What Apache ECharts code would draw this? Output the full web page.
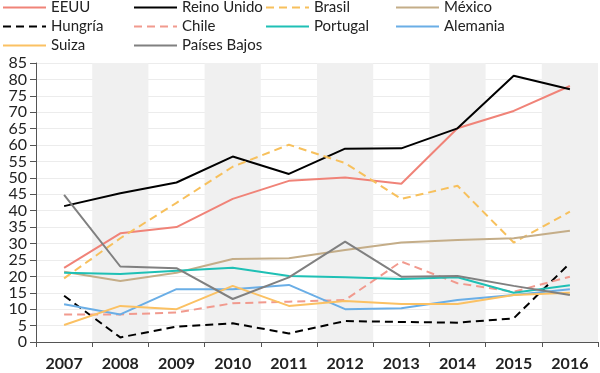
<!DOCTYPE html>
<html>
<head>
<meta charset="utf-8">
<script src="https://cdn.jsdelivr.net/npm/echarts@6/dist/echarts.min.js"></script>
<style>
html,body{margin:0;padding:0;background:#fff;}
#c{width:600px;height:373px;}
</style>
</head>
<body>
<div id="c"></div>
<script>
const years = ['2007','2008','2009','2010','2011','2012','2013','2014','2015','2016'];
const yTicks = [0,5,10,15,20,25,30,35,40,45,50,55,60,65,70,75,80,85];
const eeuu = [22.6, 33.1, 35.0, 43.6, 49.1, 50.1, 48.2, 65.1, 70.4, 78.0];
const reinoUnido = [41.4, 45.3, 48.6, 56.5, 51.2, 58.9, 59.0, 65.1, 81.1, 77.0];
const brasil = [19.4, 31.6, 42.4, 53.4, 60.1, 54.5, 43.6, 47.6, 30.3, 39.7];
const mexico = [21.4, 18.6, 21.1, 25.3, 25.5, 28.0, 30.3, 31.1, 31.6, 33.9];
const hungria = [14.1, 1.4, 4.7, 5.7, 2.6, 6.4, 6.1, 5.9, 7.2, 24.0];
const chile = [8.4, 8.4, 9.0, 11.8, 12.3, 12.8, 24.5, 17.9, 15.3, 19.9];
const portugal = [21.1, 20.7, 21.7, 22.6, 20.1, 19.7, 19.2, 19.7, 15.0, 17.3];
const alemania = [11.5, 8.4, 16.1, 16.1, 17.4, 10.0, 10.3, 12.8, 14.3, 16.1];
const suiza = [5.2, 11.0, 10.0, 17.1, 11.0, 12.5, 11.6, 11.6, 14.3, 15.0];
const paisesBajos = [44.8, 23.0, 22.5, 13.1, 19.7, 30.6, 19.9, 20.1, 17.1, 14.3];

const FONT = 'Lato, "Open Sans", sans-serif';
function line(name, data, color, dashed) {
  return {
    name: name, type: 'line', data: data, symbol: 'none', smooth: false,
    lineStyle: { color: color, width: 2, type: dashed ? [8, 5] : 'solid' },
    itemStyle: { color: color },
    emphasis: { disabled: true }
  };
}
const legendBase = {
  orient: 'vertical', top: 0, padding: 0, itemGap: 4,
  itemWidth: 43, itemHeight: 14, selectedMode: false,
  itemStyle: { color: 'rgba(0,0,0,0)', borderColor: 'rgba(0,0,0,0)', borderWidth: 0, opacity: 0 },
  textStyle: { fontFamily: FONT, fontSize: 15, color: '#222', padding: [0,0,0,0] }
};
const chart = echarts.init(document.getElementById('c'), null, { renderer: 'canvas' });
chart.setOption({
  animation: false,
  backgroundColor: '#fff',
  legend: [
    Object.assign({}, legendBase, { left: 2, data: ['EEUU', 'Hungría', 'Suiza'] }),
    Object.assign({}, legendBase, { left: 133, data: ['Reino Unido', 'Chile', 'Países Bajos'] }),
    Object.assign({}, legendBase, { left: 265, data: ['Brasil', 'Portugal'] }),
    Object.assign({}, legendBase, { left: 395, data: ['México', 'Alemania'] })
  ],
  grid: { left: 36, right: 2, top: 63, bottom: 31, containLabel: false },
  xAxis: {
    type: 'category', data: years, boundaryGap: true,
    axisLine: { lineStyle: { color: '#555', width: 1 } },
    axisTick: { show: true, length: 5, lineStyle: { color: '#555' } },
    axisLabel: { fontFamily: FONT, fontSize: 16, fontWeight: 'bold', color: '#222', margin: 14, interval: 0 },
    splitLine: { show: false },
    splitArea: { show: true, areaStyle: { color: ['rgba(255,255,255,0)', '#f0f0f0'] } }
  },
  yAxis: {
    type: 'value', min: 0, max: 85, interval: 5,
    axisLine: { show: true, lineStyle: { color: '#555', width: 1 } },
    axisTick: { show: true, length: 6, lineStyle: { color: '#555' } },
    axisLabel: { fontFamily: FONT, fontSize: 16, color: '#222', margin: 9,
      formatter: function (v) { return yTicks.indexOf(v) >= 0 ? String(v) : ''; } },
    splitLine: { show: true, lineStyle: { color: '#ececec', width: 1 } }
  },
  series: [
    line('EEUU', eeuu, '#f08378', false),
    line('Reino Unido', reinoUnido, '#000000', false),
    line('Brasil', brasil, '#f7c05c', true),
    line('México', mexico, '#c4ad88', false),
    line('Hungría', hungria, '#000000', true),
    line('Chile', chile, '#f19a8e', true),
    line('Portugal', portugal, '#1fc0b5', false),
    line('Alemania', alemania, '#6aaee6', false),
    line('Suiza', suiza, '#fbc163', false),
    line('Países Bajos', paisesBajos, '#808080', false)
  ]
});
</script>
</body>
</html>
